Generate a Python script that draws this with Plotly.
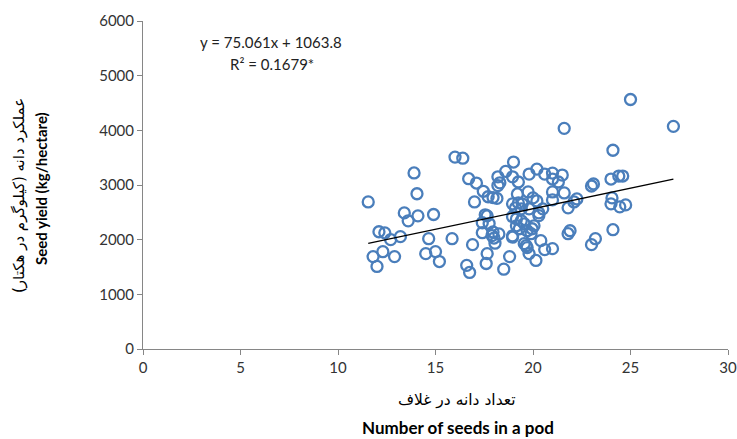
import plotly.graph_objects as go

# Number of seeds in a pod
seeds = [
    11.55, 11.8, 12.0, 12.1, 12.3, 12.4, 12.7, 12.9, 13.2, 13.4,
    13.6, 13.9, 14.05, 14.1, 14.5, 14.65, 14.9, 15.0, 15.2, 15.85,
    16.0, 16.4, 16.6, 16.7, 16.75, 16.9, 17.0, 17.1, 17.45, 17.7,
    17.95, 18.15, 17.4, 17.4, 17.55, 17.65, 17.65, 17.6, 17.75, 17.95,
    18.25, 17.9, 18.0, 18.05, 18.2, 18.3, 18.2, 18.6, 18.5, 18.8,
    18.95, 18.95, 18.95, 19.0, 18.95, 19.1, 18.95, 19.15, 19.25, 19.2,
    19.25, 19.45, 19.4, 19.15, 19.3, 19.4, 19.55, 19.7, 19.95, 20.05,
    19.9, 19.55, 19.65, 19.7, 19.8, 20.15, 19.8, 20.2, 20.6, 21.0,
    21.0, 21.5, 21.3, 19.75, 20.0, 20.2, 21.0, 21.0, 21.6, 22.25,
    22.1, 19.8, 20.3, 20.5, 21.8, 20.3, 20.4, 20.6, 21.0, 21.6,
    21.9, 21.8, 23.0, 23.1, 23.0, 23.2, 24.0, 24.4, 24.6, 24.1,
    24.05, 24.0, 24.45, 24.75, 24.1, 25.0, 27.2,
]

# Seed yield (kg/hectare)
yields = [
    2690, 1690, 1510, 2145, 1780, 2125, 2000, 1690, 2055, 2490,
    2345, 3220, 2840, 2436, 1745, 2018, 2460, 1782, 1600, 2018,
    3510, 3490, 1530, 3115, 1400, 1909, 2690, 3036, 2885, 2785,
    2770, 2755, 2309, 2127, 2455, 2436, 1745, 1564, 2295, 2140,
    2105, 2075, 2030, 1935, 3150, 3040, 2990, 3250, 1460, 1690,
    3150, 2045, 2070, 3420, 2655, 2580, 2420, 2380, 3055, 2836,
    2673, 2655, 2564, 2254, 2200, 2345, 2290, 2163, 2200, 2254,
    2109, 1927, 1890, 1855, 1745, 1620, 3200, 3290, 3200, 3218,
    3109, 3182, 3055, 2873, 2764, 2709, 2873, 2727, 2855, 2745,
    2690, 2564, 2490, 2564, 2582, 2440, 1982, 1818, 1836, 4036,
    2163, 2109, 2982, 3018, 1909, 2018, 3109, 3164, 3164, 3636,
    2764, 2655, 2600, 2636, 2182, 4564, 4073,
]

slope = 75.061
intercept = 1063.8
eq_text = "y = 75.061x + 1063.8"
r2_text = "R² = 0.1679*"

x_ticks = [0, 5, 10, 15, 20, 25, 30]
y_ticks = [0, 1000, 2000, 3000, 4000, 5000, 6000]

x_title_fa = "تعداد دانه در غلاف"
x_title_en = "Number of seeds in a pod"
y_title_fa = "عملکرد دانه (کیلوگرم در هکتار)"
y_title_en = "Seed yield (kg/hectare)"

x_line = [min(seeds), max(seeds)]
y_line = [slope * v + intercept for v in x_line]

W, H = 737, 439
ML, MR, MT, MB = 143, 9, 21, 90

fig = go.Figure()
fig.add_trace(go.Scatter(
    x=seeds, y=yields, mode="markers",
    marker=dict(symbol="circle-open", size=11, color="#4A7EBB",
                line=dict(width=2.3, color="#4A7EBB")),
    showlegend=False, hoverinfo="skip",
))
fig.add_trace(go.Scatter(
    x=x_line, y=y_line, mode="lines",
    line=dict(color="black", width=1.3),
    showlegend=False, hoverinfo="skip",
))

tick_font = dict(family="Lato, Carlito, Liberation Sans", size=15, color="#333")

fig.update_layout(
    width=W, height=H,
    margin=dict(l=ML, r=MR, t=MT, b=MB, autoexpand=False),
    plot_bgcolor="white", paper_bgcolor="white",
    xaxis=dict(range=[0, 30], tickvals=x_ticks, showgrid=False, zeroline=False,
               showline=True, linecolor="#868686", linewidth=1,
               ticks="outside", ticklen=5, tickcolor="#868686",
               tickfont=tick_font, automargin=False),
    yaxis=dict(range=[0, 6000], tickvals=y_ticks, showgrid=False, zeroline=False,
               showline=True, linecolor="#868686", linewidth=1,
               ticks="outside", ticklen=5, tickcolor="#868686",
               tickfont=tick_font, automargin=False),
)


def px(xp):
    return (xp - ML) / (W - ML - MR)


def py(yp):
    return (H - MB - yp) / (H - MT - MB)


def label(xp, yp, text, font, angle=0):
    fig.add_annotation(x=px(xp), y=py(yp), xref="paper", yref="paper", text=text,
                       showarrow=False, xanchor="center", yanchor="middle",
                       textangle=angle, font=font)


ann_font = dict(family="Lato, Carlito, Liberation Sans", size=15, color="#222")
label(271, 42, eq_text, ann_font)
label(272, 64, r2_text, ann_font)

label(457, 400, x_title_fa, dict(family="DejaVu Sans", size=15.5, color="black"))
label(458, 428, "<b>" + x_title_en + "</b>",
      dict(family="Lato, Carlito, Liberation Sans", size=17, color="black"))
label(19, 196, y_title_fa, dict(family="DejaVu Sans", size=15, color="black"), -90)
label(41, 189, "<b>" + y_title_en + "</b>",
      dict(family="Lato, Carlito, Liberation Sans", size=15, color="black"), -90)

fig.write_html("out.html", config={"displayModeBar": False},
               post_script="document.body.style.margin='0px';")
